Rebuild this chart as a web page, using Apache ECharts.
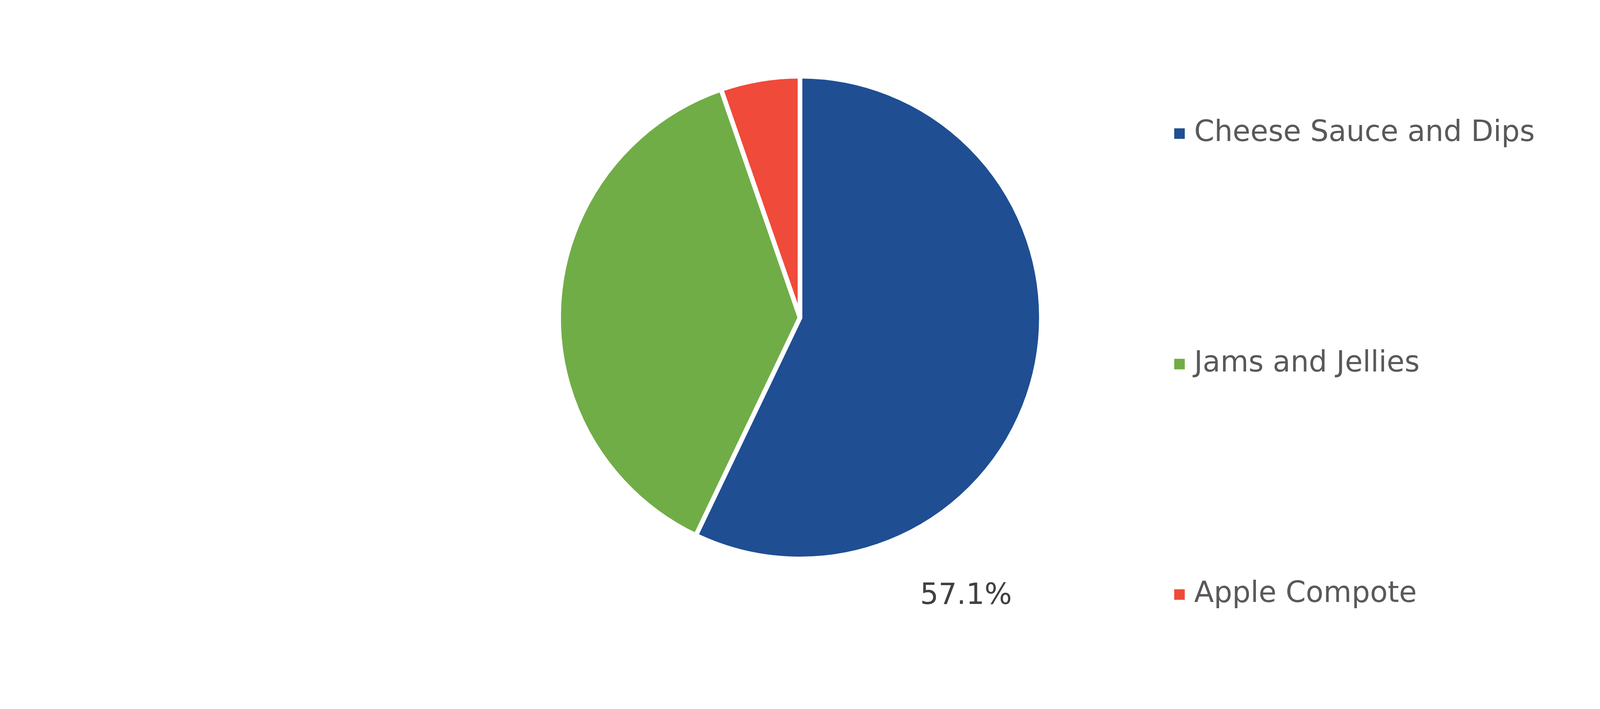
<!DOCTYPE html>
<html>
<head>
<meta charset="utf-8">
<script src="https://cdn.jsdelivr.net/npm/echarts@6/dist/echarts.min.js"></script>
<style>
html,body{margin:0;padding:0;background:#fff;width:100%;height:100%;overflow:hidden;}
#chart{position:absolute;top:0;left:calc(50vw - 2541px);width:5082px;height:1815px;}
</style>
</head>
<body>
<div id="chart"></div>
<script>
const categories = ['Cheese Sauce and Dips', 'Jams and Jellies', 'Apple Compote'];
const values = [57.1, 37.6, 5.3];
const colors = ['#1F4E93', '#70AD47', '#F04A3A'];
const shownLabels = [true, false, false];

const chart = echarts.init(document.getElementById('chart'), null, {renderer: 'canvas'});

const option = {
  backgroundColor: '#ffffff',
  animation: false,
  legend: {
    orient: 'vertical',
    left: 3492,
    top: 300,
    itemGap: 516,
    itemWidth: 29,
    itemHeight: 29,
    icon: 'rect',
    data: categories,
    textStyle: {
      fontFamily: 'DejaVu Sans',
      fontSize: 74,
      color: '#595959',
      padding: [0, 0, 0, 18]
    }
  },
  series: [{
    type: 'pie',
    center: [2541, 813],
    radius: 618,
    startAngle: 90,
    clockwise: true,
    avoidLabelOverlap: false,
    itemStyle: {borderColor: '#ffffff', borderWidth: 12},
    label: {
      show: true,
      formatter: '{c}%',
      fontFamily: 'DejaVu Sans',
      fontSize: 74,
      color: '#404040'
    },
    labelLine: {show: false},
    labelLayout: function (params) {
      if (params.dataIndex === 0) {
        return {x: 2966, y: 1527, align: 'center', verticalAlign: 'middle'};
      }
      return {};
    },
    emphasis: {disabled: true},
    data: categories.map((name, i) => ({
      name: name,
      value: values[i],
      itemStyle: {color: colors[i]},
      label: {show: shownLabels[i]}
    }))
  }]
};
chart.setOption(option);
</script>
</body>
</html>
